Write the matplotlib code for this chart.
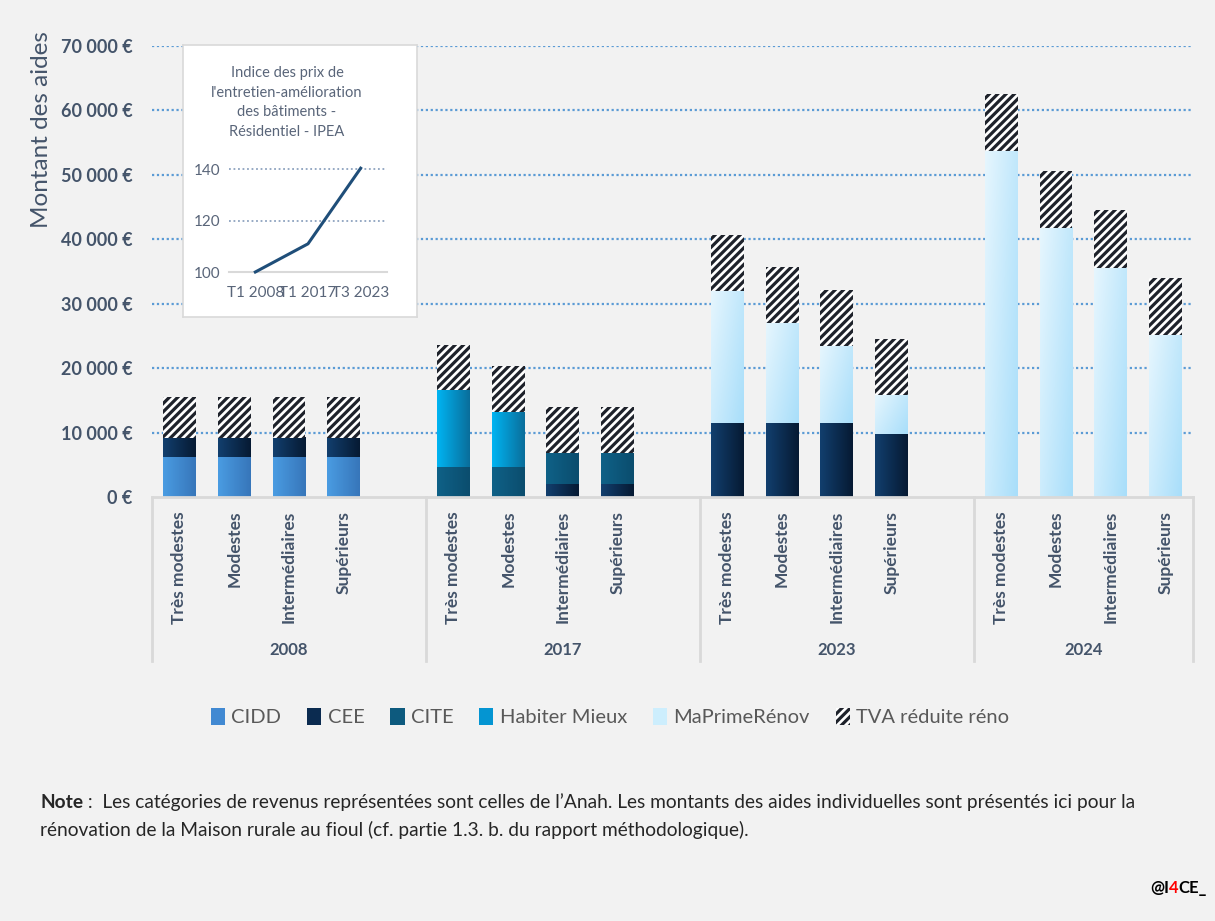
import numpy as np
import matplotlib
matplotlib.use('Agg')
import matplotlib.pyplot as plt
from matplotlib.colors import LinearSegmentedColormap
from matplotlib.patches import Patch
from matplotlib import rcParams

rcParams['font.family'] = ['Lato', 'DejaVu Sans']
rcParams['hatch.linewidth'] = 2.3

# data (one value per group x income category)
years = ['2008', '2017', '2023', '2024']
categories = ['Très modestes', 'Modestes', 'Intermédiaires', 'Supérieurs']
cidd = [6200, 6200, 6200, 6200, 0, 0, 0, 0, 0, 0, 0, 0, 0, 0, 0, 0]
cee = [3000, 3000, 3000, 3000, 0, 0, 2000, 2000, 11500, 11500, 11500, 9800, 0, 0, 0, 0]
cite = [0, 0, 0, 0, 4700, 4700, 4800, 4800, 0, 0, 0, 0, 0, 0, 0, 0]
habiter = [0, 0, 0, 0, 11900, 8500, 0, 0, 0, 0, 0, 0, 0, 0, 0, 0]
mpr = [0, 0, 0, 0, 0, 0, 0, 0, 20500, 15500, 11900, 6100, 53700, 41800, 35600, 25100]
tva = [6300, 6300, 6300, 6300, 7000, 7100, 7100, 7100, 8700, 8700, 8700, 8700, 8900, 8800, 8900, 8900]

ipea_labels = ['T1 2008', 'T1 2017', 'T3 2023']
ipea_values = [100, 111, 140.5]

BG = '#f2f2f2'
TXT = '#44546a'
W, H = 1215, 921


def grad_bar(ax, x, bottom, height, width, c0, c1, diag=False):
    if height <= 0:
        return
    cmap = LinearSegmentedColormap.from_list('g', [c0, c1])
    u = np.linspace(0, 1, 64)
    if diag:
        v = np.linspace(0, 1, 64)[:, None]
        arr = 0.6 * u[None, :] + 0.4 * v
    else:
        arr = np.tile(u, (2, 1))
    ax.imshow(arr, cmap=cmap, vmin=0, vmax=1, origin='upper', aspect='auto',
              extent=(x - width / 2, x + width / 2, bottom, bottom + height),
              interpolation='bilinear', zorder=2)


fig = plt.figure(figsize=(W / 100, H / 100), dpi=100, facecolor=BG)
ax = fig.add_axes([152 / W, 1 - 497 / H, (1193 - 152) / W, (497 - 46) / H])
ax.set_facecolor(BG)

# bar positions: 4 bars per year, one empty slot between years
pos = [5 * g + c for g in range(len(years)) for c in range(len(categories))]
bw = 0.6

series = [
    (cidd, '#4a9ce2', '#3776ba', False),
    (cee, '#123f6e', '#061a33', False),
    (cite, '#0f6187', '#0b4d6e', False),
    (habiter, '#00b4f2', '#0a6e9b', False),
    (mpr, '#e6f6fe', '#a8defa', True),
]
bottoms = np.zeros(len(pos))
for vals, c0, c1, diag in series:
    for i, x in enumerate(pos):
        grad_bar(ax, x, bottoms[i], vals[i], bw, c0, c1, diag)
    bottoms += np.array(vals)
ax.bar(pos, tva, bw, bottom=bottoms, color='white', hatch='////',
       edgecolor='#1e222b', linewidth=0, zorder=2)

ax.set_xlim(-0.5, 18.5)
ax.set_ylim(0, 70000)
ax.set_yticks(np.arange(0, 70001, 10000))
ax.set_yticklabels([f'{v:,.0f} €'.replace(',', ' ') for v in range(0, 70001, 10000)])
ax.tick_params(axis='y', length=0, pad=14, labelsize=13, labelcolor=TXT)
for lab in ax.get_yticklabels():
    lab.set_fontweight('bold')
for v in range(10000, 70001, 10000):
    ax.axhline(v, color='#5b9bd5', lw=1.6, ls=(0, (1, 1.2)), zorder=1)

ax.set_xticks(pos)
ax.set_xticklabels(categories * 4, rotation=90, fontweight='bold', fontsize=12.5,
                   color=TXT, va='top')
ax.tick_params(axis='x', length=0, pad=10)
for s in ['top', 'right', 'left']:
    ax.spines[s].set_visible(False)
ax.spines['bottom'].set_color('#d9d9d9')
ax.spines['bottom'].set_linewidth(2)

# group separators and year labels
trans = ax.get_xaxis_transform()
for b in [-0.5, 4.5, 9.5, 14.5, 18.5]:
    ax.plot([b, b], [0, -0.364], transform=trans, color='#d9d9d9', lw=2, clip_on=False)
for g, yr in enumerate(years):
    lo, hi = 5 * g - 0.5, min(5 * g + 4.5, 18.5)
    ax.text((lo + hi) / 2, -0.339, yr, transform=trans, ha='center', va='center',
            fontsize=12, fontweight='bold', color=TXT)

fig.text(42 / W, 1 - 130 / H, 'Montant des aides', rotation=90, ha='center', va='center',
         fontsize=17.5, color=TXT)

# legend
handles = [Patch(facecolor=c, label=l) for c, l in [
    ('#4189d2', 'CIDD'), ('#0b2b50', 'CEE'), ('#0d5a7e', 'CITE'),
    ('#0495d2', 'Habiter Mieux'), ('#cdeefd', 'MaPrimeRénov')]]
handles.append(Patch(facecolor='white', edgecolor='#1e222b', hatch='////', linewidth=0,
                     label='TVA réduite réno'))
fig.legend(handles=handles, ncol=6, loc='center', bbox_to_anchor=(0.502, 1 - 717 / H),
           frameon=False, fontsize=14.5, handlelength=0.7, handleheight=0.9,
           handletextpad=0.3, columnspacing=1.3, labelcolor='#595959')

# inset: IPEA index
box = fig.add_axes([183 / W, 1 - 317 / H, 234 / W, 272 / H])
box.set_facecolor('white')
box.set_xticks([])
box.set_yticks([])
for s in box.spines.values():
    s.set_color('#d9d9d9')
    s.set_linewidth(1.2)
fig.text(287 / W, 1 - 102.5 / H,
         "Indice des prix de\nl'entretien-amélioration\ndes bâtiments -\nRésidentiel - IPEA",
         ha='center', va='center', ma='center', fontsize=10.5, color='#596579',
         linespacing=1.5)
iax = fig.add_axes([229 / W, 1 - 272 / H, 158 / W, 102.5 / H])
iax.set_facecolor('none')
iax.plot(range(len(ipea_values)), ipea_values, color='#1f4e79', lw=2.2, clip_on=False,
         zorder=3)
iax.set_xlim(-0.5, 2.5)
iax.set_ylim(100, 140)
iax.set_yticks([100, 120, 140])
iax.set_xticks(range(3))
iax.set_xticklabels(ipea_labels)
iax.tick_params(length=0, labelsize=11, labelcolor='#596579')
iax.tick_params(axis='y', pad=6)
iax.tick_params(axis='x', pad=10)
for v in [120, 140]:
    iax.axhline(v, color='#8ea3bf', lw=1.3, ls=(0, (1, 1.5)), zorder=1, clip_on=False)
for s in ['top', 'right', 'left']:
    iax.spines[s].set_visible(False)
iax.spines['bottom'].set_color('#d9d9d9')
iax.spines['bottom'].set_linewidth(1.5)

# note
note = fig.text(40 / W, 1 - 802 / H, 'Note', fontweight='bold', fontsize=13.8,
                va='center', color='#262626')
ax.annotate(" :  Les catégories de revenus représentées sont celles de l’Anah. Les montants des "
            "aides individuelles sont présentés ici pour la",
            xy=(1, 0.5), xycoords=note, va='center', ha='left', fontsize=13.8,
            color='#262626', annotation_clip=False)
fig.text(40 / W, 1 - 830 / H,
         'rénovation de la Maison rurale au fioul (cf. partie 1.3. b. du rapport méthodologique).',
         fontsize=13.8, va='center', color='#262626')

# logo
t1 = fig.text(1150 / W, 1 - 888 / H, '@I', fontweight='bold', fontsize=12, va='center',
              color='black')
t2 = ax.annotate('4', xy=(1, 0.5), xycoords=t1, va='center', ha='left', fontsize=12,
                 fontweight='bold', color='#ff0000', annotation_clip=False)
ax.annotate('CE_', xy=(1, 0.5), xycoords=t2, va='center', ha='left', fontsize=12,
            fontweight='bold', color='black', annotation_clip=False)

fig.savefig('out.png', dpi=100, facecolor=BG)
